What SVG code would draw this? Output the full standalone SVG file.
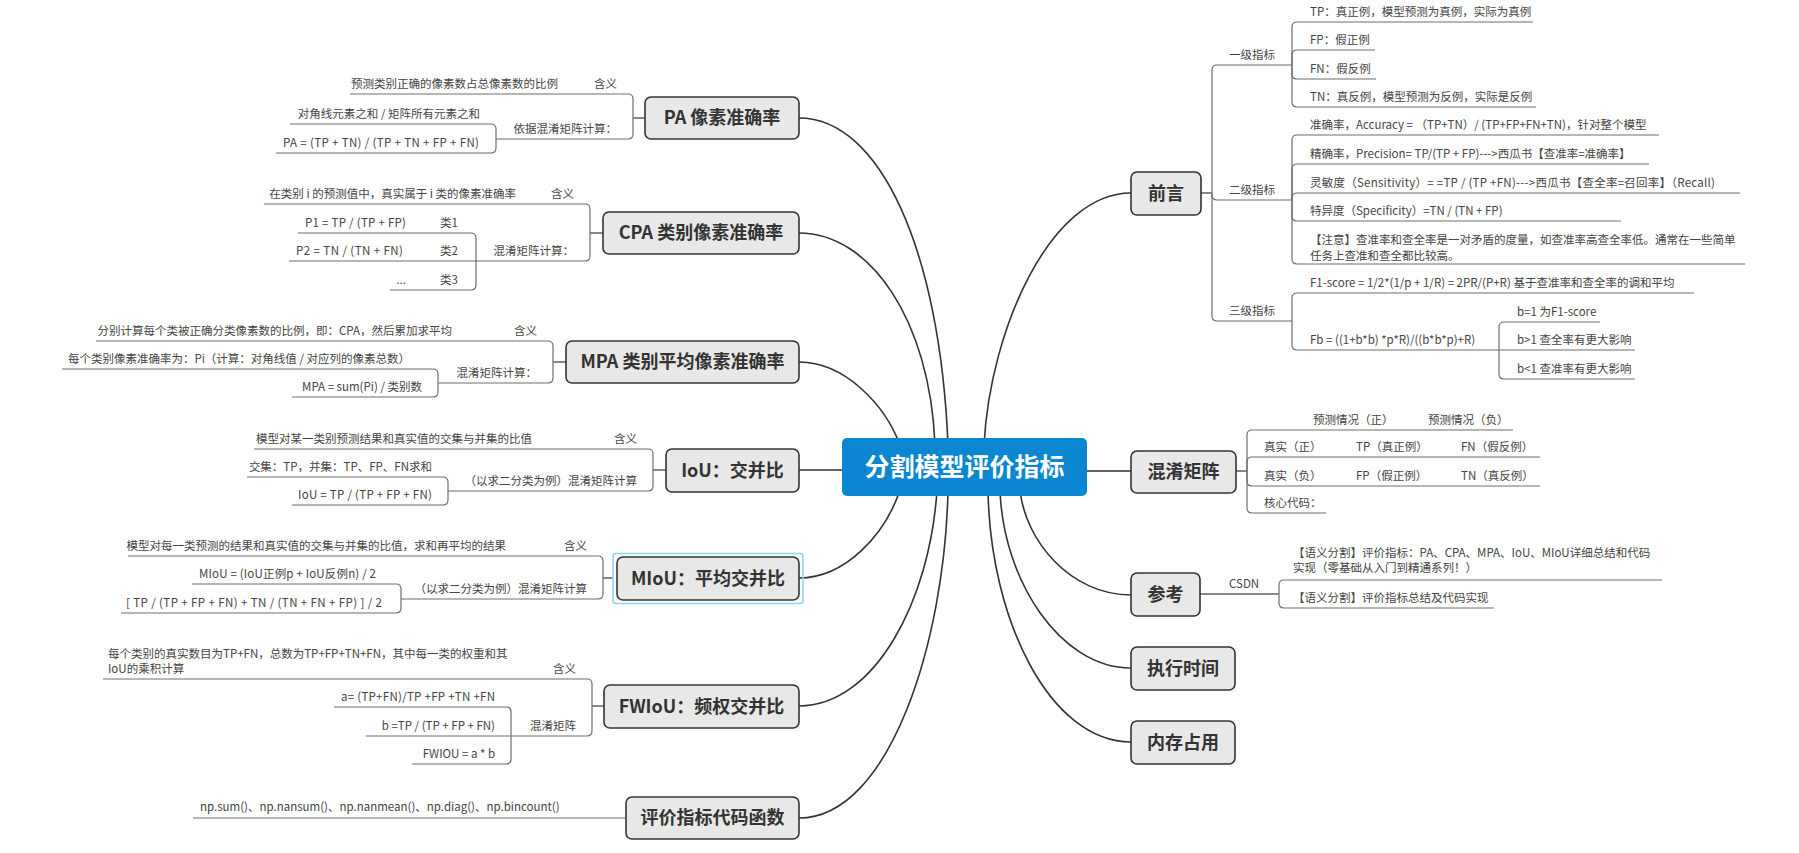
<svg xmlns="http://www.w3.org/2000/svg" width="1799" height="853" viewBox="0 0 1799 853">
<style>
  .bg{fill:#ffffff}
  .node rect{fill:#e8e8e8;stroke:#333;stroke-width:1.6}
  .node rect.hl{fill:none;stroke:#8fd4f4;stroke-width:1.5}
  .node text{font-family:"Noto Sans CJK SC","Liberation Sans",sans-serif;font-weight:bold;font-size:18px;fill:#333;text-anchor:middle}
  .root rect{fill:#0a87d0}
  .root text{font-family:"Noto Sans CJK SC","Liberation Sans",sans-serif;font-weight:bold;font-size:25px;fill:#fff;text-anchor:middle}
  .t{font-family:"Noto Sans CJK SC","Liberation Sans",sans-serif;font-size:11.5px;fill:#444}
  .e{text-anchor:end}
  .curve{fill:none;stroke:#333;stroke-width:1.6}
  .sub{fill:none;stroke:#6e6e6e;stroke-width:1.2}
  .stem{fill:none;stroke:#888;stroke-width:2}
</style>
<rect class="bg" x="0" y="0" width="1799" height="853"/>

<!-- main curved connectors from the central topic -->
<g id="connectors">
  <path class="curve" d="M799,118 C880,118 940,250 948,445"/>
  <path class="curve" d="M799,233 C870,233 930,320 935,445"/>
  <path class="curve" d="M799,362 C845,362 885,405 900,445"/>
  <path class="curve" d="M799,470 H850"/>
  <path class="curve" d="M799,578 C845,578 885,535 900,490"/>
  <path class="curve" d="M799,706 C875,706 930,600 937,490"/>
  <path class="curve" d="M799,818 C890,818 945,640 948,490"/>
  <path class="curve" d="M1131,193 C1050,193 990,330 984,445"/>
  <path class="curve" d="M1131,471 H1080"/>
  <path class="curve" d="M1131,595 C1070,595 1025,540 1020,490"/>
  <path class="curve" d="M1131,668 C1060,668 1003,580 1000,490"/>
  <path class="curve" d="M1131,742 C1050,742 990,620 988,490"/>
</g>

<!-- bracket lines and underlines of the sub-topics -->
<g id="sub-links">
  <!-- 前言 -->
  <path class="stem" d="M1201,193 H1212"/>
  <path class="sub" d="M1212,193 V70 Q1212,65 1217,65 H1292"/>
  <path class="sub" d="M1292,65 V27 Q1292,22 1297,22 H1533"/>
  <path class="sub" d="M1292,65 V55 Q1292,50 1297,50 H1375"/>
  <path class="sub" d="M1292,65 V74 Q1292,79 1297,79 H1376"/>
  <path class="sub" d="M1292,65 V102 Q1292,107 1297,107 H1536"/>
  <path class="sub" d="M1212,193 V195 Q1212,200 1217,200 H1292"/>
  <path class="sub" d="M1292,200 V140 Q1292,135 1297,135 H1659"/>
  <path class="sub" d="M1292,200 V169 Q1292,164 1297,164 H1649"/>
  <path class="sub" d="M1292,200 V198 Q1292,193 1297,193 H1740"/>
  <path class="sub" d="M1292,200 V216 Q1292,221 1297,221 H1621"/>
  <path class="sub" d="M1292,200 V259 Q1292,264 1297,264 H1745"/>
  <path class="sub" d="M1212,193 V316 Q1212,321 1217,321 H1292"/>
  <path class="sub" d="M1292,321 V298 Q1292,293 1297,293 H1694"/>
  <path class="sub" d="M1292,321 V345 Q1292,350 1297,350 H1499"/>
  <path class="sub" d="M1499,350 V327 Q1499,322 1504,322 H1600"/>
  <path class="sub" d="M1499,350 H1635"/>
  <path class="sub" d="M1499,350 V374 Q1499,379 1504,379 H1635"/>
  <!-- 混淆矩阵 -->
  <path class="stem" d="M1236,471 H1247"/>
  <path class="sub" d="M1247,471 V435 Q1247,430 1252,430 H1513"/>
  <path class="sub" d="M1247,471 V462 Q1247,457 1252,457 H1540"/>
  <path class="sub" d="M1247,471 V481 Q1247,486 1252,486 H1540"/>
  <path class="sub" d="M1247,471 V508 Q1247,513 1252,513 H1326"/>
  <!-- 参考 -->
  <path class="stem" d="M1200,594 H1279"/>
  <path class="sub" d="M1279,594 V585 Q1279,580 1284,580 H1662"/>
  <path class="sub" d="M1279,594 V603 Q1279,608 1284,608 H1494"/>
  <!-- PA -->
  <path class="stem" d="M645,118 H633"/>
  <path class="sub" d="M633,118 V99 Q633,94 628,94 H350"/>
  <path class="sub" d="M633,118 V134 Q633,139 628,139 H496"/>
  <path class="sub" d="M496,139 V129 Q496,124 491,124 H290"/>
  <path class="sub" d="M496,139 V148 Q496,153 491,153 H276"/>
  <!-- CPA -->
  <path class="stem" d="M603,233 H590"/>
  <path class="sub" d="M590,233 V209 Q590,204 585,204 H264"/>
  <path class="sub" d="M590,233 V256 Q590,261 585,261 H476"/>
  <path class="sub" d="M476,261 V238 Q476,233 471,233 H298"/>
  <path class="sub" d="M476,261 H289"/>
  <path class="sub" d="M476,261 V285 Q476,290 471,290 H390"/>
  <!-- MPA -->
  <path class="stem" d="M566,362 H553"/>
  <path class="sub" d="M553,362 V346 Q553,341 548,341 H96"/>
  <path class="sub" d="M553,362 V378 Q553,383 548,383 H438"/>
  <path class="sub" d="M438,383 V374 Q438,369 433,369 H62"/>
  <path class="sub" d="M438,383 V392 Q438,397 433,397 H292"/>
  <!-- IoU -->
  <path class="stem" d="M666,470 H653"/>
  <path class="sub" d="M653,470 V454 Q653,449 648,449 H254"/>
  <path class="sub" d="M653,470 V486 Q653,491 648,491 H448"/>
  <path class="sub" d="M448,491 V482 Q448,477 443,477 H247"/>
  <path class="sub" d="M448,491 V500 Q448,505 443,505 H292"/>
  <!-- MIoU -->
  <path class="stem" d="M613,578 H603"/>
  <path class="sub" d="M603,578 V561 Q603,556 598,556 H128"/>
  <path class="sub" d="M603,578 V594 Q603,599 598,599 H401"/>
  <path class="sub" d="M401,599 V589 Q401,584 396,584 H192"/>
  <path class="sub" d="M401,599 V608 Q401,613 396,613 H121"/>
  <!-- FWIoU -->
  <path class="stem" d="M604,706 H592"/>
  <path class="sub" d="M592,706 V684 Q592,679 587,679 H103"/>
  <path class="sub" d="M592,706 V731 Q592,736 587,736 H511"/>
  <path class="sub" d="M511,736 V712 Q511,707 506,707 H334"/>
  <path class="sub" d="M511,736 H366"/>
  <path class="sub" d="M511,736 V759 Q511,764 506,764 H412"/>
  <!-- 评价指标代码函数 -->
  <path class="sub" d="M626,818 H193"/>
</g>

<!-- central topic -->
<g id="root" class="root">
  <rect x="842" y="438" width="245" height="58" rx="5"/>
  <text x="964.5" y="476">分割模型评价指标</text>
</g>

<!-- left branches -->
<g id="node-pa" class="node">
  <rect x="645" y="97" width="154" height="42" rx="6"/>
  <text x="722" y="124">PA  像素准确率</text>
</g>
<g id="pa-items">
  <text class="t e" x="617" y="88">含义</text>
  <text class="t e" x="558" y="88">预测类别正确的像素数占总像素数的比例</text>
  <text class="t e" x="617" y="133">依据混淆矩阵计算：</text>
  <text class="t e" x="480" y="118">对角线元素之和 / 矩阵所有元素之和</text>
  <text class="t e" x="479" y="147" textLength="196" lengthAdjust="spacing">PA = (TP + TN) / (TP + TN + FP + FN)</text>
</g>

<g id="node-cpa" class="node">
  <rect x="603" y="212" width="196" height="42" rx="6"/>
  <text x="701" y="239">CPA 类别像素准确率</text>
</g>
<g id="cpa-items">
  <text class="t e" x="574" y="198">含义</text>
  <text class="t e" x="516" y="198">在类别 i 的预测值中，真实属于 i 类的像素准确率</text>
  <text class="t e" x="574" y="255">混淆矩阵计算：</text>
  <text class="t e" x="458" y="227">类1</text>
  <text class="t e" x="406" y="227" textLength="101" lengthAdjust="spacing">P1 = TP / (TP + FP)</text>
  <text class="t e" x="458" y="255">类2</text>
  <text class="t e" x="403" y="255" textLength="107" lengthAdjust="spacing">P2 = TN / (TN + FN)</text>
  <text class="t e" x="458" y="284">类3</text>
  <text class="t e" x="406" y="284">...</text>
</g>

<g id="node-mpa" class="node">
  <rect x="566" y="341" width="233" height="42" rx="6"/>
  <text x="682.5" y="368">MPA 类别平均像素准确率</text>
</g>
<g id="mpa-items">
  <text class="t e" x="537" y="335">含义</text>
  <text class="t e" x="452" y="335">分别计算每个类被正确分类像素数的比例，即：CPA，然后累加求平均</text>
  <text class="t e" x="537" y="377">混淆矩阵计算：</text>
  <text class="t e" x="410" y="363">每个类别像素准确率为：Pi（计算：对角线值 / 对应列的像素总数）</text>
  <text class="t e" x="422" y="391">MPA = sum(Pi) / 类别数</text>
</g>

<g id="node-iou" class="node">
  <rect x="666" y="449" width="133" height="43" rx="6"/>
  <text x="732.5" y="477">IoU：交并比</text>
</g>
<g id="iou-items">
  <text class="t e" x="637" y="443">含义</text>
  <text class="t e" x="532" y="443">模型对某一类别预测结果和真实值的交集与并集的比值</text>
  <text class="t e" x="637" y="485">（以求二分类为例）混淆矩阵计算</text>
  <text class="t e" x="432" y="471">交集：TP，并集：TP、FP、FN求和</text>
  <text class="t e" x="432" y="499" textLength="134" lengthAdjust="spacing">IoU = TP / (TP + FP + FN)</text>
</g>

<g id="node-miou" class="node">
  <rect class="hl" x="613" y="553.5" width="190" height="50" rx="3"/>
  <rect x="617" y="557" width="182" height="43" rx="6"/>
  <text x="708" y="585">MIoU：平均交并比</text>
</g>
<g id="miou-items">
  <text class="t e" x="587" y="550">含义</text>
  <text class="t e" x="506" y="550">模型对每一类预测的结果和真实值的交集与并集的比值，求和再平均的结果</text>
  <text class="t e" x="587" y="593">（以求二分类为例）混淆矩阵计算</text>
  <text class="t e" x="376" y="578" textLength="177" lengthAdjust="spacing">MIoU = (IoU正例p + IoU反例n) / 2</text>
  <text class="t e" x="382" y="607" textLength="256" lengthAdjust="spacing">[ TP / (TP + FP + FN) + TN / (TN + FN + FP) ] / 2</text>
</g>

<g id="node-fwiou" class="node">
  <rect x="604" y="685" width="195" height="43" rx="6"/>
  <text x="701.5" y="713">FWIoU：频权交并比</text>
</g>
<g id="fwiou-items">
  <text class="t e" x="576" y="673">含义</text>
  <text class="t" x="108" y="658">每个类别的真实数目为TP+FN，总数为TP+FP+TN+FN，其中每一类的权重和其</text>
  <text class="t" x="108" y="673">IoU的乘积计算</text>
  <text class="t e" x="576" y="730">混淆矩阵</text>
  <text class="t e" x="495" y="701" textLength="154" lengthAdjust="spacing">a= (TP+FN)/TP +FP +TN +FN</text>
  <text class="t e" x="495" y="730">b =TP / (TP + FP + FN)</text>
  <text class="t e" x="495" y="758">FWIOU = a * b</text>
</g>

<g id="node-code" class="node">
  <rect x="626" y="797" width="173" height="42" rx="6"/>
  <text x="712.5" y="824">评价指标代码函数</text>
</g>
<g id="code-items">
  <text class="t" x="200" y="811">np.sum()、np.nansum()、np.nanmean()、np.diag()、np.bincount()</text>
</g>

<!-- right branches -->
<g id="node-preface" class="node">
  <rect x="1131" y="172" width="70" height="43" rx="6"/>
  <text x="1166" y="200">前言</text>
</g>
<g id="preface-items">
  <text class="t" x="1229" y="59">一级指标</text>
  <text class="t" x="1310" y="16">TP：真正例，模型预测为真例，实际为真例</text>
  <text class="t" x="1310" y="44">FP：假正例</text>
  <text class="t" x="1310" y="73">FN：假反例</text>
  <text class="t" x="1310" y="101">TN：真反例，模型预测为反例，实际是反例</text>
  <text class="t" x="1229" y="194">二级指标</text>
  <text class="t" x="1310" y="129">准确率，Accuracy = （TP+TN）/ (TP+FP+FN+TN)，针对整个模型</text>
  <text class="t" x="1310" y="158">精确率，Precision= TP/(TP + FP)---&gt;西瓜书【查准率=准确率】</text>
  <text class="t" x="1310" y="187" textLength="405" lengthAdjust="spacing">灵敏度（Sensitivity）= =TP / (TP +FN)---&gt;西瓜书【查全率=召回率】（Recall)</text>
  <text class="t" x="1310" y="215">特异度（Specificity）=TN / (TN + FP)</text>
  <text class="t" x="1310" y="244">【注意】查准率和查全率是一对矛盾的度量，如查准率高查全率低。通常在一些简单</text>
  <text class="t" x="1310" y="260">任务上查准和查全都比较高。</text>
  <text class="t" x="1229" y="315">三级指标</text>
  <text class="t" x="1310" y="287">F1-score = 1/2*(1/p + 1/R) = 2PR/(P+R)  基于查准率和查全率的调和平均</text>
  <text class="t" x="1310" y="344">Fb = ((1+b*b)  *p*R)/((b*b*p)+R)</text>
  <text class="t" x="1517" y="316">b=1 为F1-score</text>
  <text class="t" x="1517" y="344">b&gt;1 查全率有更大影响</text>
  <text class="t" x="1517" y="373">b&lt;1 查准率有更大影响</text>
</g>

<g id="node-matrix" class="node">
  <rect x="1131" y="451" width="105" height="42" rx="6"/>
  <text x="1183.5" y="478">混淆矩阵</text>
</g>
<g id="matrix-items">
  <text class="t" x="1313" y="424">预测情况（正）</text>
  <text class="t" x="1428" y="424">预测情况（负）</text>
  <text class="t" x="1264" y="451">真实（正）</text>
  <text class="t" x="1356" y="451">TP（真正例）</text>
  <text class="t" x="1461" y="451">FN（假反例）</text>
  <text class="t" x="1264" y="480">真实（负）</text>
  <text class="t" x="1356" y="480">FP（假正例）</text>
  <text class="t" x="1461" y="480">TN（真反例）</text>
  <text class="t" x="1264" y="507">核心代码：</text>
</g>

<g id="node-ref" class="node">
  <rect x="1131" y="573" width="69" height="43" rx="6"/>
  <text x="1165.5" y="601">参考</text>
</g>
<g id="ref-items">
  <text class="t" x="1229" y="588">CSDN</text>
  <text class="t" x="1293" y="557">【语义分割】评价指标：PA、CPA、MPA、IoU、MIoU详细总结和代码</text>
  <text class="t" x="1293" y="572">实现（零基础从入门到精通系列！）</text>
  <text class="t" x="1293" y="602">【语义分割】评价指标总结及代码实现</text>
</g>

<g id="node-time" class="node">
  <rect x="1131" y="647" width="104" height="43" rx="6"/>
  <text x="1183" y="675">执行时间</text>
</g>

<g id="node-memory" class="node">
  <rect x="1131" y="721" width="104" height="43" rx="6"/>
  <text x="1183" y="749">内存占用</text>
</g>
</svg>
